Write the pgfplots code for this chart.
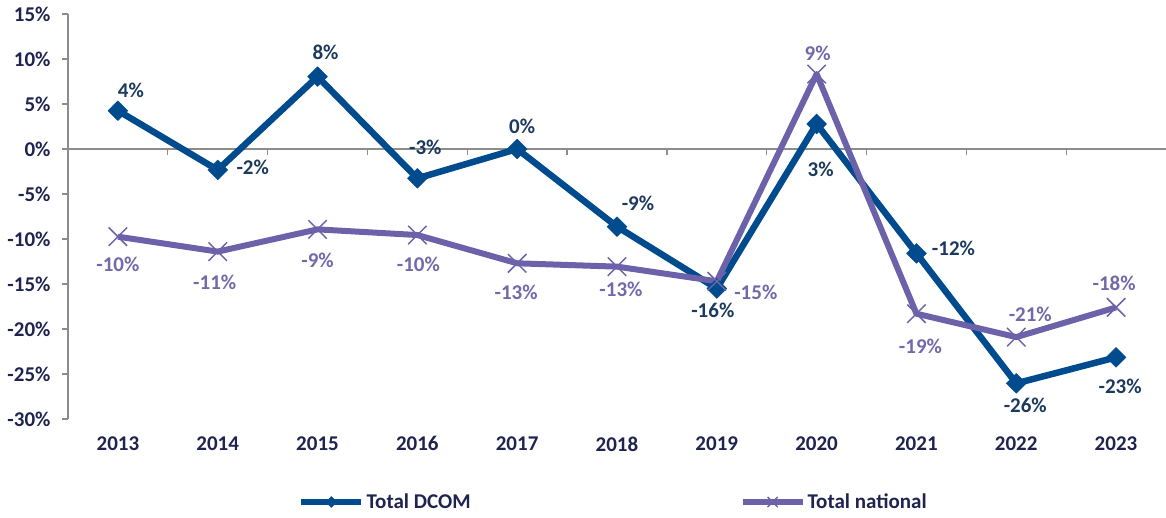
\documentclass[border=0pt]{standalone}
\usepackage{pgfplots}
\pgfplotsset{compat=1.18}
\usepackage{pgfplotstable}
\usepackage{fontspec}
\setmainfont{Carlito}
\definecolor{dcom}{HTML}{004B8D}
\definecolor{nat}{HTML}{6C62AA}
\definecolor{dcomlab}{HTML}{1B3A5E}
\definecolor{natlab}{HTML}{7268AA}
\definecolor{ticklab}{HTML}{1E2350}
\definecolor{axgray}{HTML}{8C8C8C}

\pgfplotstableread{
x y lab dx dy
2013 4.26 4 13 20
2014 -2.33 -2 35 3
2015 8.04 8 8 24
2016 -3.26 -3 8 31
2017 0.0 0 5 23
2018 -8.63 -9 21 23
2019 -15.5 -16 -4 -22
2020 2.78 3 4 -45
2021 -11.6 -12 37 5
2022 -26.04 -26 9 -22
2023 -23.15 -23 4 -29
}\dcomdata

\pgfplotstableread{
x y lab dx dy
2013 -9.74 -10 0 -28
2014 -11.4 -11 -3 -31
2015 -8.93 -9 0 -31
2016 -9.56 -10 1 -29
2017 -12.7 -13 -1 -29
2018 -13.07 -13 4 -23
2019 -14.7 -15 39 -11
2020 8.33 9 1 21
2021 -18.3 -19 4 -33
2022 -20.9 -21 14 23
2023 -17.6 -18 -2 24
}\natdata

\pgfplotsset{
  labelled/.style={
    point meta=explicit symbolic,
    visualization depends on={\thisrow{dx} \as \dx},
    visualization depends on={\thisrow{dy} \as \dy},
    nodes near coords={\pgfplotspointmeta\%},
    every node near coord/.append style={anchor=center, xshift=\dx pt, yshift=\dy pt,
      text=#1, font=\fontsize{21}{25}\selectfont\bfseries}
  }
}

\begin{document}
\begin{tikzpicture}[font=\fontsize{21}{25}\selectfont\bfseries]
\useasboundingbox (-68pt,-98pt) rectangle (1098pt,419pt);
\begin{axis}[
  scale only axis, width=1098pt, height=405pt,
  xmin=2012.5, xmax=2023.5, ymin=-30, ymax=15,
  clip=false,
  axis y line*=left, axis x line*=bottom,
  x axis line style={draw=none},
  y axis line style={axgray, line width=1.3pt},
  xtick={2013,...,2023},
  xticklabels={2013,2014,2015,2016,2017,2018,2019,2020,2021,2022,2023},
  x tick style={draw=none},
  ytick={-30,-25,...,15},
  yticklabel={\pgfmathprintnumber{\tick}\%},
  /pgf/number format/assume math mode=true,
  y tick style={axgray, line width=1.3pt},
  tick align=outside, major tick length=6pt,
  tick label style={text=ticklab, font=\fontsize{21}{25}\selectfont\bfseries},
  xticklabel style={yshift=-8pt},
  yticklabel style={xshift=-8pt},
  legend columns=2,
  legend style={draw=none, fill=none, at={(0.2067,-0.205)}, anchor=west,
    font=\fontsize{21}{25}\selectfont\bfseries, text=ticklab,
    /tikz/every even column/.append style={column sep=267pt}},
  legend image code/.code={
    \draw[#1, mark repeat=2, mark phase=2, every mark/.append style={scale=0.55}]
      plot coordinates {(0pt,0pt) (30pt,0pt) (60pt,0pt)};},
]
\addplot[axgray, line width=1.3pt, forget plot] coordinates {(2012.5,0) (2023.5,0)};
\pgfplotsinvokeforeach{2013.5,2014.5,2015.5,2016.5,2017.5,2018.5,2019.5,2020.5,2021.5,2022.5}{
  \draw[axgray, line width=1.3pt] (axis cs:#1,0) -- ++(0pt,-6pt);
}
\addplot[dcom, line width=6.5pt, line join=round, mark=square*, mark size=7pt,
  mark options={solid, fill=dcom, line width=0.5pt, rotate=45}, labelled=dcomlab]
  table[x=x, y=y, meta=lab] {\dcomdata};
\addlegendentry{Total DCOM}
\addplot[nat, line width=6pt, line join=round, mark=x, mark size=13pt,
  mark options={solid, line width=1.5pt}, labelled=natlab]
  table[x=x, y=y, meta=lab] {\natdata};
\addlegendentry{Total national}
\end{axis}
\end{tikzpicture}
\end{document}
